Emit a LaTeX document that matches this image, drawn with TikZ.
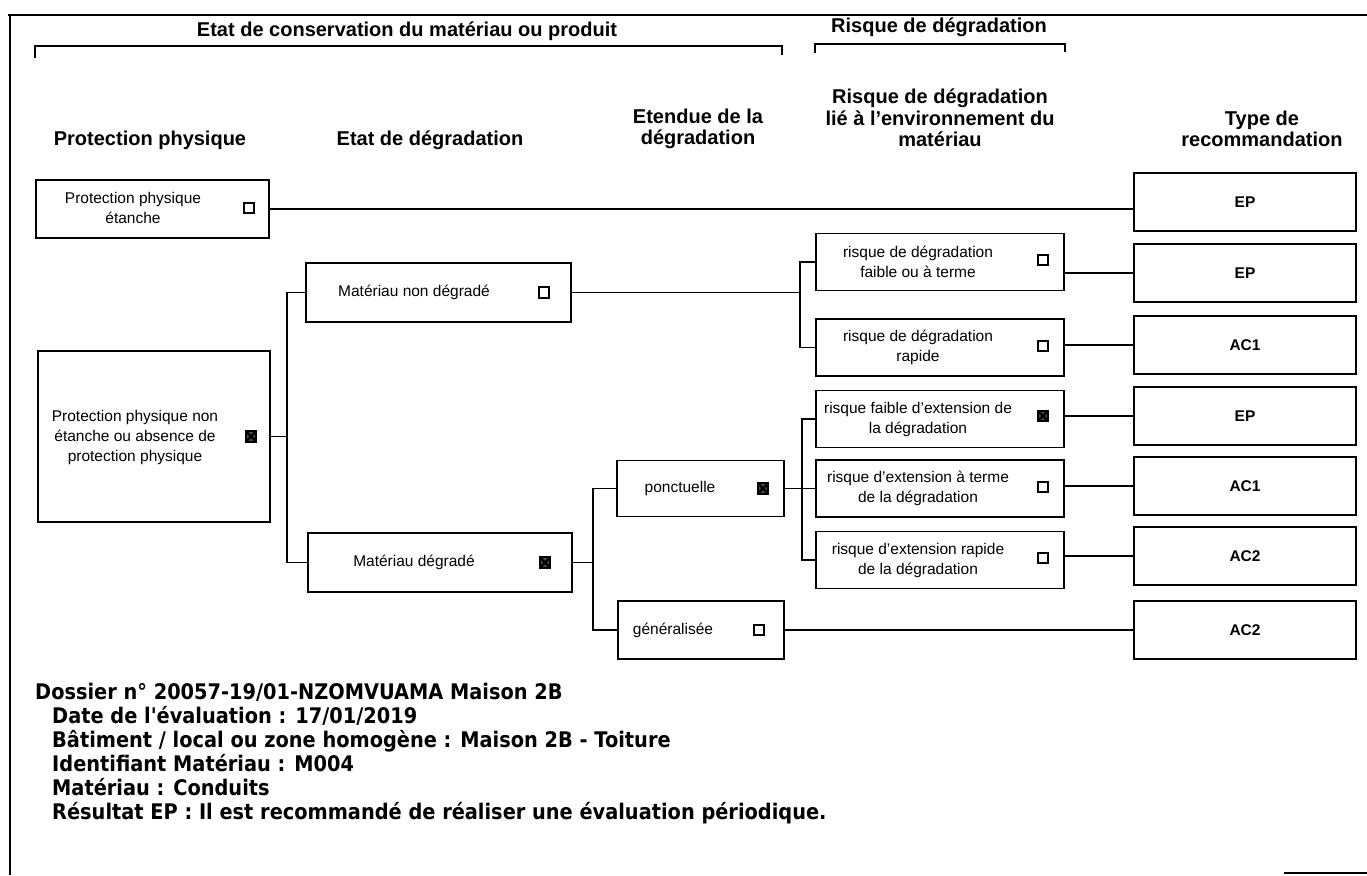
\documentclass[tikz,border=0pt]{standalone}
\usepackage{fontspec}
\setmainfont{Liberation Sans}
\newfontfamily\notefont[FakeStretch=0.9]{DejaVu Sans}
\usepackage{tikz}
\usetikzlibrary{positioning}
\tikzset{
  dghead/.style={font=\bfseries\fontsize{20}{21.5}\selectfont,align=center,inner sep=0pt},
  dgbox/.style={draw,line width=1.7pt,inner sep=0pt},
  dgtype/.style={dgbox,minimum width=222,minimum height=58,
                 font=\bfseries\fontsize{15.5}{18}\selectfont},
  dgrisk/.style={dgbox,minimum width=248,minimum height=57},
  dgtext/.style={font=\fontsize{15.5}{20}\selectfont,align=center,inner sep=0pt},
  dgcheck/.style={draw,line width=1.8pt,minimum size=10.5,inner sep=0pt},
  dgchecked/.style={dgcheck,fill=black!70,
    path picture={\draw[line width=2.4pt]
      (path picture bounding box.south west) -- (path picture bounding box.north east)
      (path picture bounding box.north west) -- (path picture bounding box.south east);}},
  dglink/.style={line width=1.7pt},
  dgbracket/.style={line width=1.7pt},
  dgframe/.style={line width=1.2pt},
  dgnote/.style={font=\notefont\bfseries\fontsize{21.5}{24}\selectfont,anchor=base west,inner sep=0pt}
}

\begin{document}
\begin{tikzpicture}[x=1pt,y=-1pt]
  \useasboundingbox (0,0) rectangle (1367,875);
  \draw[dgframe] (8,15) -- (1367,15);
  \draw[dgframe] (10,15) -- (10,875);
  \draw[dgframe] (1284,873) -- (1367,873);

  % titles and brackets
  \node[dghead] (tcons) at (407,31) {Etat de conservation du matériau ou produit};
  \node[dghead] (trisk) at (939,27) {Risque de dégradation};
  \draw[dgbracket] (35,58) -- (35,46) -- (782,46) -- (782,55);
  \draw[dgbracket] (815,53) -- (815,44) -- (1065,44) -- (1065,52);

  % column heads
  \node[dghead] (hprot) at (150,140) {Protection physique};
  \node[dghead] (hetat) at (430,140) {Etat de dégradation};
  \node[dghead] (hext) at (698,129) {Etendue de la\\dégradation};
  \node[dghead] (hrisk) at (940,118) {Risque de dégradation\\lié à l'environnement du\\matériau};
  \node[dghead] (htype) at (1262,129) {Type de\\recommandation};

  % protection physique
  \node[dgbox,minimum width=233,minimum height=58] (etanche) at (152.5,209) {};
  \node[dgtext] at (133,208) {Protection physique\\étanche};
  \node[dgcheck] at (249,208) {};
  \node[dgbox,minimum width=232,minimum height=171] (nonetanche) at (154,436.5) {};
  \node[dgtext] at (135,437) {Protection physique non\\étanche ou absence de\\protection physique};
  \node[dgchecked] at (251,436.5) {};

  % etat de degradation
  \node[dgbox,minimum width=265,minimum height=59] (nondeg) at (438.5,292.5) {};
  \node[dgtext] at (414,292.5) {Matériau non dégradé};
  \node[dgcheck] at (544,292.5) {};
  \node[dgbox,minimum width=264,minimum height=59] (deg) at (440,562.5) {};
  \node[dgtext] at (414,562.5) {Matériau dégradé};
  \node[dgchecked] at (545,562.5) {};

  % etendue
  \node[dgbox,minimum width=167,minimum height=56] (ponct) at (700.5,488.5) {};
  \node[dgtext] at (680,488.5) {ponctuelle};
  \node[dgchecked] at (763,488.5) {};
  \node[dgbox,minimum width=166,minimum height=58] (gen) at (701,630) {};
  \node[dgtext] at (673,630) {généralisée};
  \node[dgcheck] at (759,630) {};

  % risque
  \node[dgrisk] (rk1) at (940,262) {};
  \node[dgtext] at (918,262) {risque de dégradation\\faible ou à terme};
  \node[dgcheck] at (1043,260) {};
  \node[dgrisk] (rk2) at (940,347.5) {};
  \node[dgtext] at (918,347.5) {risque de dégradation\\rapide};
  \node[dgcheck] at (1043,346) {};
  \node[dgrisk] (rk3) at (940,419) {};
  \node[dgtext] at (918,419) {risque faible d'extension de\\la dégradation};
  \node[dgchecked] at (1043,416) {};
  \node[dgrisk] (rk4) at (940,488.5) {};
  \node[dgtext] at (918,488.5) {risque d'extension à terme\\de la dégradation};
  \node[dgcheck] at (1043,487) {};
  \node[dgrisk] (rk5) at (940,560) {};
  \node[dgtext] at (918,560) {risque d'extension rapide\\de la dégradation};
  \node[dgcheck] at (1043,558) {};

  % type de recommandation
  \node[dgtype] (tep1) at (1245,202) {EP};
  \node[dgtype] (tep2) at (1245,273) {EP};
  \node[dgtype] (tac1) at (1245,345) {AC1};
  \node[dgtype] (tep3) at (1245,416) {EP};
  \node[dgtype] (tac1b) at (1245,486) {AC1};
  \node[dgtype] (tac2) at (1245,556) {AC2};
  \node[dgtype] (tac2b) at (1245,630) {AC2};

  % links
  \draw[dglink] (etanche.east) -- (etanche.east -| tep1.west);
  \draw[dglink] (nonetanche.east) -| ([xshift=-18pt]nondeg.west) -- (nondeg.west);
  \draw[dglink] (nonetanche.east) -| ([xshift=-20pt]deg.west) -- (deg.west);
  \draw[dglink] (nondeg.east) -| ([xshift=-15pt]rk1.west) -- (rk1.west);
  \draw[dglink] (nondeg.east) -| ([xshift=-15pt]rk2.west) -- (rk2.west);
  \draw[dglink] (deg.east) -| ([xshift=-23pt]ponct.west) -- (ponct.west);
  \draw[dglink] (deg.east) -| ([xshift=-24pt]gen.west) -- (gen.west);
  \draw[dglink] (ponct.east) -| ([xshift=-13pt]rk3.west) -- (rk3.west);
  \draw[dglink] (ponct.east) -- (rk4.west);
  \draw[dglink] (ponct.east) -| ([xshift=-13pt]rk5.west) -- (rk5.west);
  \draw[dglink] (gen.east) -- (tac2b.west);
  \foreach \t/\r in {tep2/rk1,tac1/rk2,tep3/rk3,tac1b/rk4,tac2/rk5}
    \draw[dglink] (\t.west) -- (\t.west -| \r.east);

  % dossier notes
  \node[dgnote] (dossier) at (35,699) {Dossier n° 20057-19/01-NZOMVUAMA Maison 2B};
  \node[dgnote] (date) at (52,723) {Date de l'évaluation : 17/01/2019};
  \node[dgnote] (batiment) at (52,747) {Bâtiment / local ou zone homogène : Maison 2B - Toiture};
  \node[dgnote] (ident) at (52,771) {Identifiant Matériau : M004};
  \node[dgnote] (materiau) at (52,795) {Matériau : Conduits};
  \node[dgnote] (resultat) at (52,819) {Résultat EP : Il est recommandé de réaliser une évaluation périodique.};
\end{tikzpicture}
\end{document}
